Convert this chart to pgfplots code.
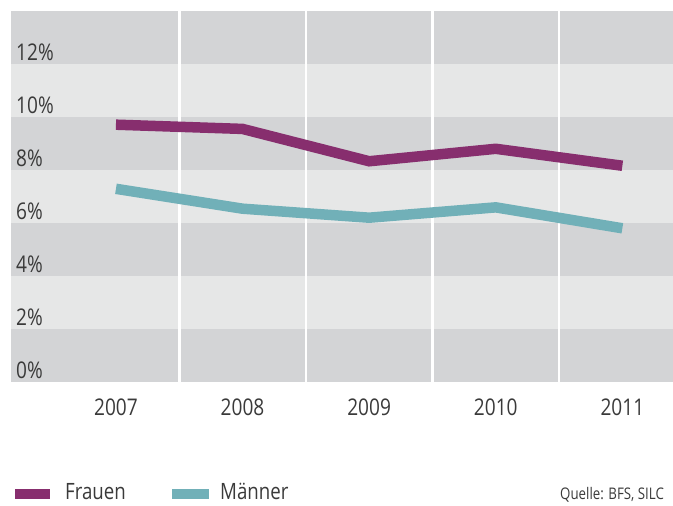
\documentclass[border=0pt]{standalone}
\usepackage{fontspec}
\setmainfont{Open Sans}[FakeStretch=0.83]
\usepackage{pgfplots}
\pgfplotsset{compat=1.18}
\definecolor{frauen}{HTML}{872E6E}
\definecolor{maenner}{HTML}{71B0B8}
\definecolor{banddark}{HTML}{D3D4D6}
\definecolor{bandlight}{HTML}{E6E7E7}
\definecolor{txt}{HTML}{3A3A3A}
\begin{document}
\begin{tikzpicture}[x=1pt,y=1pt]
\useasboundingbox (0,0) rectangle (673,506);
\begin{axis}[
  at={(11pt,124pt)}, anchor=south west,
  scale only axis, width=662pt, height=371pt,
  xmin=-0.829, xmax=4.40, ymin=0, ymax=14,
  axis on top,
  axis line style={draw=none}, major tick length=0pt,
  axis background/.style={fill=banddark},
  xtick={0,1,2,3,4}, xticklabels={2007,2008,2009,2010,2011},
  ytick={0,2,4,6,8,10,12}, yticklabels={0\%,2\%,4\%,6\%,8\%,10\%,12\%},
  xticklabel style={anchor=base, inner sep=0pt, yshift=-34pt, font=\fontsize{23}{27}\selectfont, text=txt},
  yticklabel style={anchor=base west, inner sep=0pt, xshift=5pt, yshift=3.5pt, font=\fontsize{23}{27}\selectfont, text=txt},
]
\fill[bandlight] (axis cs:-0.829,2) rectangle (axis cs:4.4,4);
\fill[bandlight] (axis cs:-0.829,6) rectangle (axis cs:4.4,8);
\fill[bandlight] (axis cs:-0.829,10) rectangle (axis cs:4.4,12);
\draw[white, line width=2.5pt] (axis cs:0.5,0) -- (axis cs:0.5,14);
\draw[white, line width=2.5pt] (axis cs:1.5,0) -- (axis cs:1.5,14);
\draw[white, line width=2.5pt] (axis cs:2.5,0) -- (axis cs:2.5,14);
\draw[white, line width=2.5pt] (axis cs:3.5,0) -- (axis cs:3.5,14);
\addplot[frauen, line width=10.5pt, line cap=butt, line join=miter, mark=none]
  coordinates {(0,9.71) (1,9.55) (2,8.33) (3,8.80) (4,8.16)};
\addplot[maenner, line width=10.5pt, line cap=butt, line join=miter, mark=none]
  coordinates {(0,7.29) (1,6.54) (2,6.20) (3,6.59) (4,5.80)};
\end{axis}
\fill[frauen] (15,6.7) rectangle (50,17.3);
\node[anchor=base west, inner sep=0pt, font=\fontsize{22.5}{27}\selectfont, text=txt] at (65,6) {Frauen};
\fill[maenner] (172,6.7) rectangle (209,17.3);
\node[anchor=base west, inner sep=0pt, font=\fontsize{22.5}{27}\selectfont, text=txt] at (220,6) {Männer};
\node[anchor=base west, inner sep=0pt, font=\fontsize{16}{19}\selectfont, text=txt] at (560,6) {Quelle: BFS, SILC};
\end{tikzpicture}
\end{document}
